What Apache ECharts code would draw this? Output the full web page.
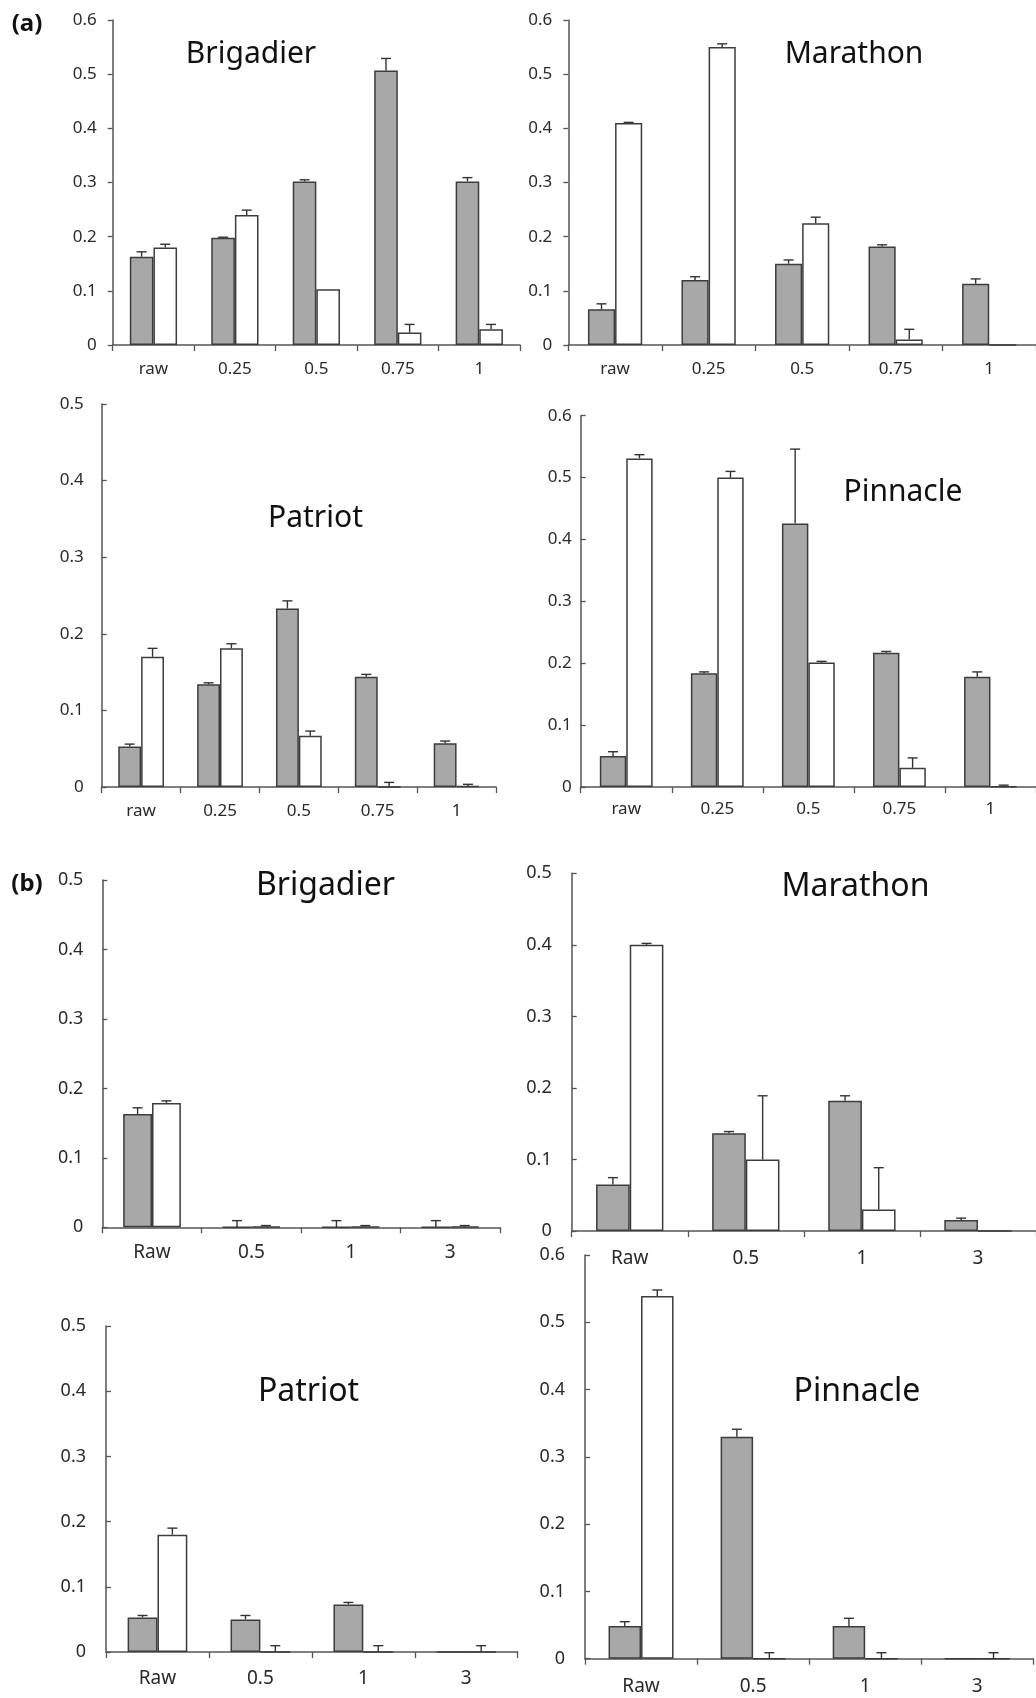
<!DOCTYPE html>
<html><head><meta charset="utf-8">
<script src="https://cdn.jsdelivr.net/npm/echarts@6/dist/echarts.min.js"></script>
<style>html,body{margin:0;padding:0;background:#fff}#c{width:1036px;height:1698px}</style>
</head><body><div id="c"></div>
<script>
// ---------- DATA ----------
const catsA = ['raw', '0.25', '0.5', '0.75', '1'];
const catsB = ['Raw', '0.5', '1', '3'];

// (a) Brigadier
const aBrigGray = [0.163, 0.198, 0.302, 0.507, 0.302];
const aBrigGrayErr = [0.009, 0.001, 0.003, 0.022, 0.007];
const aBrigWhite = [0.180, 0.240, 0.103, 0.023, 0.029];
const aBrigWhiteErr = [0.006, 0.009, 0, 0.015, 0.009];
// (a) Marathon
const aMaraGray = [0.066, 0.120, 0.150, 0.182, 0.113];
const aMaraGrayErr = [0.010, 0.006, 0.007, 0.003, 0.009];
const aMaraWhite = [0.410, 0.550, 0.225, 0.010, 0];
const aMaraWhiteErr = [0.001, 0.006, 0.011, 0.019, 0];
// (a) Patriot
const aPatrGray = [0.053, 0.134, 0.233, 0.144, 0.057];
const aPatrGrayErr = [0.003, 0.002, 0.010, 0.003, 0.003];
const aPatrWhite = [0.170, 0.181, 0.067, 0, 0.001];
const aPatrWhiteErr = [0.011, 0.006, 0.006, 0.006, 0.0025];
// (a) Pinnacle
const aPinnGray = [0.050, 0.184, 0.426, 0.217, 0.178];
const aPinnGrayErr = [0.007, 0.002, 0.120, 0.002, 0.008];
const aPinnWhite = [0.531, 0.500, 0.201, 0.031, 0.001];
const aPinnWhiteErr = [0.006, 0.010, 0.002, 0.016, 0.002];
// (b) Brigadier
const bBrigGray = [0.163, 0, 0, 0];
const bBrigGrayErr = [0.009, 0.0096, 0.0096, 0.0096];
const bBrigWhite = [0.179, 0.001, 0.001, 0.001];
const bBrigWhiteErr = [0.003, 0.0015, 0.0015, 0.0015];
// (b) Marathon
const bMaraGray = [0.065, 0.1365, 0.182, 0.0154];
const bMaraGrayErr = [0.0096, 0.0025, 0.007, 0.0026];
const bMaraWhite = [0.400, 0.100, 0.030, 0];
const bMaraWhiteErr = [0.002, 0.089, 0.0585, 0];
// (b) Patriot
const bPatrGray = [0.053, 0.050, 0.073, 0];
const bPatrGrayErr = [0.003, 0.006, 0.003, 0];
const bPatrWhite = [0.180, 0, 0, 0];
const bPatrWhiteErr = [0.010, 0.0097, 0.0097, 0.0097];
// (b) Pinnacle
const bPinnGray = [0.0486, 0.330, 0.0486, 0];
const bPinnGrayErr = [0.0064, 0.011, 0.0114, 0];
const bPinnWhite = [0.539, 0, 0, 0];
const bPinnWhiteErr = [0.009, 0.0089, 0.0089, 0.0089];

const titles = ['Brigadier', 'Marathon', 'Patriot', 'Pinnacle', 'Brigadier', 'Marathon', 'Patriot', 'Pinnacle'];
const yMaxes = [0.6, 0.6, 0.5, 0.6, 0.5, 0.5, 0.5, 0.6];
const yInterval = 0.1;
const panelLetters = ['(a)', '(b)'];

// ---------- LAYOUT / STYLE ----------
const FONT = '"Noto Sans", "Open Sans", sans-serif';
const GAP = 0.42;
const GRAY = '#a8a8a8';
const EDGE = '#3c3c3c';
const AXIS = '#555';
const TEXT = '#2a2a2a';

const panels = [
  {cats: catsA, g: aBrigGray, ge: aBrigGrayErr, w: aBrigWhite, we: aBrigWhiteErr},
  {cats: catsA, g: aMaraGray, ge: aMaraGrayErr, w: aMaraWhite, we: aMaraWhiteErr},
  {cats: catsA, g: aPatrGray, ge: aPatrGrayErr, w: aPatrWhite, we: aPatrWhiteErr},
  {cats: catsA, g: aPinnGray, ge: aPinnGrayErr, w: aPinnWhite, we: aPinnWhiteErr},
  {cats: catsB, g: bBrigGray, ge: bBrigGrayErr, w: bBrigWhite, we: bBrigWhiteErr},
  {cats: catsB, g: bMaraGray, ge: bMaraGrayErr, w: bMaraWhite, we: bMaraWhiteErr},
  {cats: catsB, g: bPatrGray, ge: bPatrGrayErr, w: bPatrWhite, we: bPatrWhiteErr},
  {cats: catsB, g: bPinnGray, ge: bPinnGrayErr, w: bPinnWhite, we: bPinnWhiteErr}
];

const grids = [
  {left: 112.7, top: 20, width: 407.3, height: 325},
  {left: 568.3, top: 20, width: 471.2, height: 325},
  {left: 101.7, top: 404, width: 394.3, height: 383},
  {left: 580.7, top: 415.7, width: 458, height: 371.3},
  {left: 102.3, top: 880, width: 397.7, height: 347.3},
  {left: 571.7, top: 873.3, width: 469.6, height: 357.7},
  {left: 106, top: 1326, width: 411.7, height: 326},
  {left: 585, top: 1255, width: 448.3, height: 403.7}
];
const yTickInside = [false, false, true, true, true, true, true, true];
const yLabelMargin = [16, 16, 18, 9, 19, 20, 20, 20];
const xLabelMargin = [16, 16, 16, 14, 16, 18, 17, 18];
const titlePos = [[251, 54], [854, 54], [315.5, 518], [903, 492], [325.5, 886], [855.5, 887], [308.5, 1392], [857, 1392]];
const letterPos = [[27, 24], [27, 884]];

function errRender(side) {
  return function (params, api) {
    const ci = api.value(0), v = api.value(1), e = api.value(2);
    if (!e) return null;
    const base = api.coord([ci, v]);
    const top = api.coord([ci, v + e]);
    const cw = api.size([1, 0])[0];
    const x = base[0] + side * cw * (1 - GAP) / 4;
    const cap = 5;
    const st = {stroke: '#333', lineWidth: 1.4};
    return {type: 'group', children: [
      {type: 'line', shape: {x1: x, y1: base[1], x2: x, y2: top[1]}, style: st},
      {type: 'line', shape: {x1: x - cap, y1: top[1], x2: x + cap, y2: top[1]}, style: st}
    ]};
  };
}

const xAxes = [], yAxes = [], series = [], graphics = [];
panels.forEach((p, i) => {
  const isB = i >= 4;
  xAxes.push({
    type: 'category', gridIndex: i, data: p.cats, boundaryGap: true,
    axisLine: {show: true, lineStyle: {color: AXIS, width: 1.5}},
    axisTick: {show: true, length: 6, inside: false, lineStyle: {color: AXIS, width: 1.3}},
    axisLabel: {margin: xLabelMargin[i], fontSize: isB ? 19 : 17, color: TEXT, fontFamily: FONT},
    splitLine: {show: false}
  });
  yAxes.push({
    type: 'value', gridIndex: i, min: 0, max: yMaxes[i], interval: yInterval,
    axisLine: {show: true, lineStyle: {color: AXIS, width: 1.5}},
    axisTick: {show: true, length: 5, inside: yTickInside[i], lineStyle: {color: AXIS, width: 1.3}},
    axisLabel: {margin: yLabelMargin[i], fontSize: isB ? 18 : 17, color: TEXT, fontFamily: FONT,
      formatter: v => v === 0 ? '0' : v.toFixed(1)},
    splitLine: {show: false}
  });
  series.push({
    type: 'bar', xAxisIndex: i, yAxisIndex: i, data: p.g, barGap: '0%', barCategoryGap: (GAP * 100) + '%',
    itemStyle: {color: GRAY, borderColor: EDGE, borderWidth: 1.5}, z: 2
  });
  series.push({
    type: 'bar', xAxisIndex: i, yAxisIndex: i, data: p.w, barGap: '0%', barCategoryGap: (GAP * 100) + '%',
    itemStyle: {color: '#ffffff', borderColor: EDGE, borderWidth: 1.5}, z: 2
  });
  series.push({
    type: 'custom', xAxisIndex: i, yAxisIndex: i, renderItem: errRender(-1), z: 3,
    encode: {x: 0, y: 1},
    data: p.g.map((v, k) => [k, v, p.ge[k]])
  });
  series.push({
    type: 'custom', xAxisIndex: i, yAxisIndex: i, renderItem: errRender(1), z: 3,
    encode: {x: 0, y: 1},
    data: p.w.map((v, k) => [k, v, p.we[k]])
  });
  graphics.push({
    type: 'text', x: titlePos[i][0], y: titlePos[i][1], z: 10,
    style: {text: titles[i], fill: '#111', font: (isB ? '32px ' : '30px ') + FONT, textAlign: 'center', textVerticalAlign: 'middle'}
  });
});
panelLetters.forEach((t, k) => {
  graphics.push({
    type: 'text', x: letterPos[k][0], y: letterPos[k][1], z: 10,
    style: {text: t, fill: '#111', font: 'bold 24px ' + FONT, textAlign: 'center', textVerticalAlign: 'middle'}
  });
});

const chart = echarts.init(document.getElementById('c'), null, {renderer: 'canvas'});
chart.setOption({
  animation: false,
  backgroundColor: '#fff',
  grid: grids.map(g => Object.assign({containLabel: false}, g)),
  xAxis: xAxes,
  yAxis: yAxes,
  series: series,
  graphic: graphics
});
</script></body></html>
